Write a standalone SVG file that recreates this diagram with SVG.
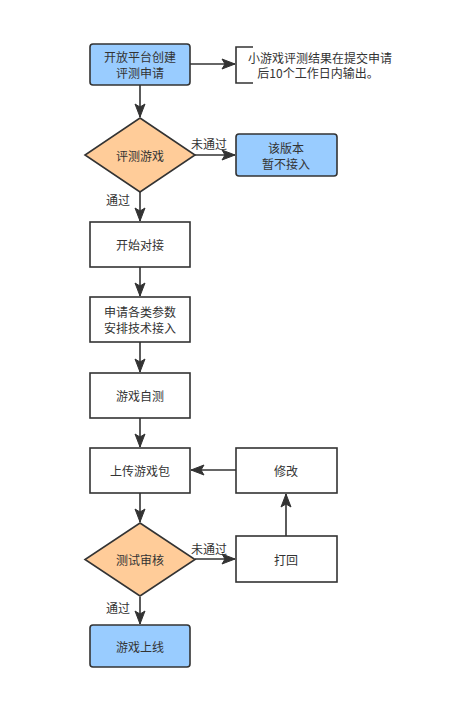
<svg xmlns="http://www.w3.org/2000/svg" width="462" height="723" viewBox="0 0 462 723">
<style>
  .box { fill: #ffffff; stroke: #333333; stroke-width: 1.6; }
  .blue { fill: #99ccff; stroke: #333333; stroke-width: 1.6; }
  .dia { fill: #ffcc99; stroke: #333333; stroke-width: 1.6; }
  .edge { fill: none; stroke: #333333; stroke-width: 1.6; }
  text { font-family: "Noto Sans CJK SC", "Liberation Sans", sans-serif; font-size: 12px; fill: #333333; text-anchor: middle; dominant-baseline: central; }
</style>
<defs>
  <marker id="arr" markerUnits="userSpaceOnUse" markerWidth="16" markerHeight="12" viewBox="0 -6 14 12" refX="13" refY="0" orient="auto">
    <path d="M0,-5 L13,0 L0,5 L3,0 Z" fill="#333333" stroke="#333333" stroke-width="1"/>
  </marker>
</defs>
<rect width="462" height="723" fill="#ffffff"/>
<g id="connectors">
  <path class="edge" d="M190,64 L235,64" marker-end="url(#arr)"/>
  <path class="edge" d="M140,85 L140,117" marker-end="url(#arr)"/>
  <path class="edge" d="M195,155 L235,155" marker-end="url(#arr)"/>
  <path class="edge" d="M140,192 L140,221" marker-end="url(#arr)"/>
  <path class="edge" d="M140,267 L140,296" marker-end="url(#arr)"/>
  <path class="edge" d="M140,342 L140,372" marker-end="url(#arr)"/>
  <path class="edge" d="M140,418 L140,447" marker-end="url(#arr)"/>
  <path class="edge" d="M140,493 L140,522" marker-end="url(#arr)"/>
  <path class="edge" d="M236,470 L191,470" marker-end="url(#arr)"/>
  <path class="edge" d="M195,559 L235,559" marker-end="url(#arr)"/>
  <path class="edge" d="M286,536 L286,494" marker-end="url(#arr)"/>
  <path class="edge" d="M140,597 L140,624" marker-end="url(#arr)"/>
  <text x="209" y="143">未通过</text>
  <text x="118" y="199">通过</text>
  <text x="209" y="548">未通过</text>
  <text x="118" y="607">通过</text>
</g>
<g id="n1">
  <rect class="blue" x="90" y="44" width="100" height="41" rx="3"/>
  <text x="140" y="56.5">开放平台创建</text>
  <text x="140" y="72">评测申请</text>
</g>
<g id="note">
  <path class="edge" d="M253,47 L236,47 L236,83 L253,83"/>
  <text x="320" y="57">小游戏评测结果在提交申请</text>
  <text x="318" y="72.5">后10个工作日内输出。</text>
</g>
<g id="d1">
  <polygon class="dia" points="140,118 195,155 140,192 85,155"/>
  <text x="140" y="155">评测游戏</text>
</g>
<g id="n2">
  <rect class="blue" x="236" y="134" width="101" height="42" rx="3"/>
  <text x="286" y="147.5">该版本</text>
  <text x="286" y="163">暂不接入</text>
</g>
<g id="n3">
  <rect class="box" x="90" y="222" width="100" height="45"/>
  <text x="140" y="244.5">开始对接</text>
</g>
<g id="n4">
  <rect class="box" x="90" y="297" width="100" height="45"/>
  <text x="140" y="311.5">申请各类参数</text>
  <text x="140" y="327">安排技术接入</text>
</g>
<g id="n5">
  <rect class="box" x="90" y="373" width="100" height="45"/>
  <text x="140" y="395.5">游戏自测</text>
</g>
<g id="n6">
  <rect class="box" x="90" y="448" width="100" height="45"/>
  <text x="140" y="470.5">上传游戏包</text>
</g>
<g id="n7">
  <rect class="box" x="236" y="448" width="101" height="45"/>
  <text x="286" y="470.5">修改</text>
</g>
<g id="d2">
  <polygon class="dia" points="140,523 195,559.5 140,596 85,559.5"/>
  <text x="140" y="559.5">测试审核</text>
</g>
<g id="n8">
  <rect class="box" x="236" y="536" width="101" height="46"/>
  <text x="286" y="559">打回</text>
</g>
<g id="n9">
  <rect class="blue" x="90" y="625" width="100" height="42" rx="3"/>
  <text x="140" y="646">游戏上线</text>
</g>
</svg>
